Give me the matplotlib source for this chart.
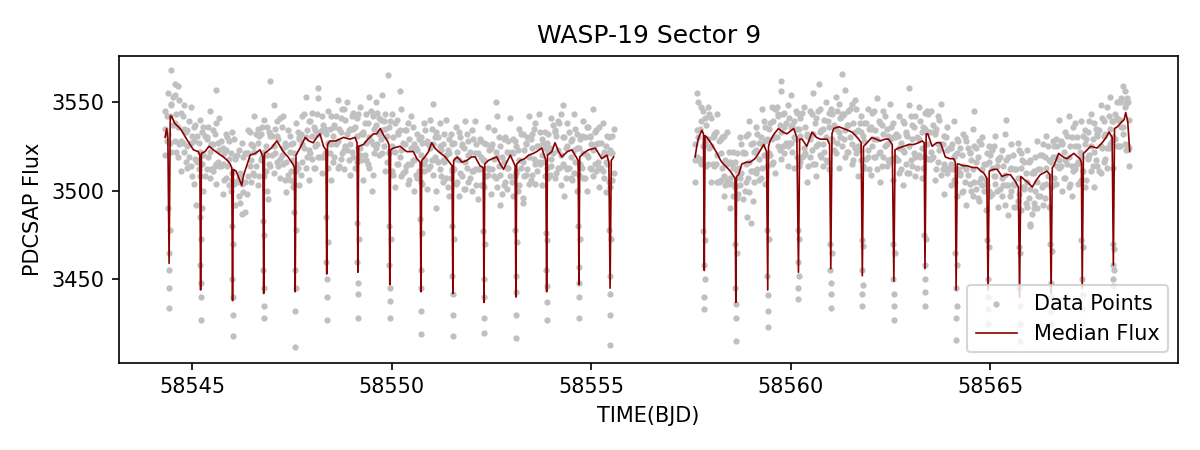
# wasp19_lightcurve.py
import numpy as np
import matplotlib
matplotlib.use("Agg")
import matplotlib.pyplot as plt

# times are stored as BJD - 58540 to keep the lists short
BJD_OFFSET = 58540

TITLE = "WASP-19 Sector 9"

# ---- data points, orbit 1 ----
seg1_time = [
    4.32, 4.40, 4.48, 4.56, 4.64, 4.72, 4.80, 4.88, 4.96, 5.04,
    5.12, 5.20, 5.28, 5.36, 5.44, 5.52, 5.60, 5.68, 5.76, 5.84,
    5.92, 6.00, 6.08, 6.16, 6.24, 6.32, 6.40, 6.48, 6.56, 6.64,
    6.72, 6.80, 6.88, 6.96, 7.04, 7.12, 7.20, 7.28, 7.36, 7.44,
    7.52, 7.60, 7.68, 7.76, 7.84, 7.92, 8.00, 8.08, 8.16, 8.24,
    8.32, 8.40, 8.48, 8.56, 8.64, 8.72, 8.80, 8.88, 8.96, 9.04,
    9.12, 9.20, 9.28, 9.36, 9.44, 9.52, 9.60, 9.68, 9.76, 9.84,
    9.92, 10.00, 10.08, 10.16, 10.24, 10.32, 10.40, 10.48, 10.56, 10.64,
    10.72, 10.80, 10.88, 10.96, 11.04, 11.12, 11.20, 11.28, 11.36, 11.44,
    11.52, 11.60, 11.68, 11.76, 11.84, 11.92, 12.00, 12.08, 12.16, 12.24,
    12.32, 12.40, 12.48, 12.56, 12.64, 12.72, 12.80, 12.88, 12.96, 13.04,
    13.12, 13.20, 13.28, 13.36, 13.44, 13.52, 13.60, 13.68, 13.76, 13.84,
    13.92, 14.00, 14.08, 14.16, 14.24, 14.32, 14.40, 14.48, 14.56, 14.64,
    14.72, 14.80, 14.88, 14.96, 15.04, 15.12, 15.20, 15.28, 15.36, 15.44,
    15.52,
]
seg1_flux_hi = [
    3545, 3555, 3549, 3554, 3559, 3544, 3548, 3534, 3547, 3536,
    3531, 3540, 3536, 3530, 3545, 3534, 3538, 3541, 3524, 3532,
    3528, 3533, 3519, 3523, 3527, 3521, 3534, 3526, 3542, 3535,
    3532, 3540, 3536, 3532, 3548, 3539, 3541, 3542, 3525, 3531,
    3527, 3538, 3530, 3542, 3553, 3539, 3544, 3534, 3552, 3542,
    3535, 3545, 3542, 3537, 3551, 3541, 3546, 3550, 3535, 3544,
    3541, 3547, 3533, 3543, 3553, 3542, 3550, 3541, 3554, 3543,
    3536, 3543, 3538, 3533, 3546, 3534, 3538, 3542, 3526, 3532,
    3530, 3538, 3528, 3540, 3549, 3533, 3538, 3526, 3540, 3529,
    3526, 3536, 3533, 3526, 3539, 3528, 3534, 3539, 3521, 3528,
    3527, 3536, 3525, 3534, 3542, 3525, 3529, 3522, 3541, 3529,
    3525, 3535, 3532, 3527, 3542, 3532, 3538, 3543, 3529, 3533,
    3532, 3541, 3534, 3539, 3543, 3530, 3538, 3528, 3543, 3532,
    3529, 3539, 3536, 3531, 3546, 3534, 3536, 3538, 3525, 3530,
    3531,
]
seg1_flux_mid = [
    3535, 3532, 3548, 3538, 3536, 3528, 3535, 3525, 3527, 3528,
    3517, 3522, 3520, 3529, 3522, 3526, 3515, 3523, 3515, 3523,
    3518, 3510, 3518, 3507, 3504, 3505, 3521, 3517, 3522, 3527,
    3518, 3522, 3520, 3531, 3525, 3531, 3518, 3524, 3516, 3522,
    3517, 3515, 3529, 3526, 3530, 3523, 3531, 3525, 3532, 3534,
    3521, 3527, 3526, 3536, 3528, 3533, 3523, 3532, 3526, 3535,
    3531, 3524, 3532, 3527, 3530, 3526, 3537, 3532, 3534, 3535,
    3522, 3525, 3522, 3532, 3523, 3526, 3515, 3524, 3517, 3523,
    3520, 3515, 3527, 3524, 3526, 3517, 3525, 3517, 3520, 3521,
    3512, 3518, 3517, 3525, 3516, 3520, 3511, 3521, 3512, 3519,
    3517, 3513, 3524, 3518, 3519, 3509, 3516, 3513, 3521, 3521,
    3511, 3517, 3516, 3526, 3519, 3524, 3515, 3525, 3520, 3524,
    3522, 3518, 3533, 3523, 3520, 3514, 3525, 3519, 3523, 3524,
    3515, 3521, 3520, 3530, 3523, 3526, 3513, 3520, 3516, 3521,
    3521,
]
seg1_flux_lo = [
    3520, 3528, 3522, 3528, 3519, 3511, 3522, 3513, 3514, 3504,
    3516, 3508, 3500, 3512, 3507, 3511, 3504, 3514, 3498, 3507,
    3503, 3506, 3492, 3497, 3487, 3488, 3508, 3505, 3509, 3503,
    3517, 3508, 3500, 3514, 3510, 3516, 3507, 3515, 3499, 3506,
    3502, 3511, 3503, 3516, 3513, 3506, 3518, 3513, 3519, 3510,
    3520, 3513, 3506, 3519, 3513, 3518, 3512, 3523, 3509, 3519,
    3516, 3520, 3506, 3517, 3513, 3509, 3524, 3520, 3521, 3511,
    3521, 3511, 3502, 3515, 3508, 3511, 3504, 3515, 3500, 3507,
    3505, 3511, 3501, 3514, 3509, 3500, 3512, 3505, 3507, 3497,
    3511, 3504, 3497, 3508, 3501, 3505, 3500, 3512, 3495, 3503,
    3502, 3509, 3498, 3508, 3502, 3492, 3503, 3501, 3508, 3497,
    3510, 3503, 3496, 3509, 3504, 3509, 3504, 3516, 3503, 3508,
    3507, 3514, 3507, 3513, 3503, 3497, 3512, 3507, 3510, 3500,
    3514, 3507, 3500, 3513, 3508, 3511, 3502, 3511, 3499, 3505,
    3506,
]
# second set of cadences in orbit 1, between the ones above
seg1_time_b = [
    4.36, 4.44, 4.52, 4.60, 4.68, 4.76, 4.84, 4.92, 5.00, 5.08,
    5.16, 5.24, 5.32, 5.40, 5.48, 5.56, 5.64, 5.72, 5.80, 5.88,
    5.96, 6.04, 6.12, 6.20, 6.28, 6.36, 6.44, 6.52, 6.60, 6.68,
    6.76, 6.84, 6.92, 7.00, 7.08, 7.16, 7.24, 7.32, 7.40, 7.48,
    7.56, 7.64, 7.72, 7.80, 7.88, 7.96, 8.04, 8.12, 8.20, 8.28,
    8.36, 8.44, 8.52, 8.60, 8.68, 8.76, 8.84, 8.92, 9.00, 9.08,
    9.16, 9.24, 9.32, 9.40, 9.48, 9.56, 9.64, 9.72, 9.80, 9.88,
    9.96, 10.04, 10.12, 10.20, 10.28, 10.36, 10.44, 10.52, 10.60, 10.68,
    10.76, 10.84, 10.92, 11.00, 11.08, 11.16, 11.24, 11.32, 11.40, 11.48,
    11.56, 11.64, 11.72, 11.80, 11.88, 11.96, 12.04, 12.12, 12.20, 12.28,
    12.36, 12.44, 12.52, 12.60, 12.68, 12.76, 12.84, 12.92, 13.00, 13.08,
    13.16, 13.24, 13.32, 13.40, 13.48, 13.56, 13.64, 13.72, 13.80, 13.88,
    13.96, 14.04, 14.12, 14.20, 14.28, 14.36, 14.44, 14.52, 14.60, 14.68,
    14.76, 14.84, 14.92, 15.00, 15.08, 15.16, 15.24, 15.32, 15.40, 15.48,
    15.56,
]
seg1_flux_up = [
    3542, 3542, 3553, 3543, 3551, 3542, 3533, 3539, 3531, 3537,
    3527, 3533, 3531, 3536, 3526, 3532, 3527, 3528, 3521, 3530,
    3521, 3529, 3520, 3510, 3519, 3521, 3533, 3525, 3532, 3531,
    3536, 3525, 3533, 3531, 3535, 3529, 3536, 3527, 3534, 3526,
    3521, 3533, 3532, 3543, 3534, 3539, 3536, 3543, 3533, 3537,
    3532, 3535, 3531, 3542, 3535, 3546, 3540, 3534, 3542, 3536,
    3543, 3532, 3538, 3538, 3545, 3535, 3544, 3540, 3539, 3531,
    3539, 3530, 3540, 3534, 3527, 3534, 3529, 3536, 3524, 3529,
    3527, 3534, 3526, 3535, 3530, 3530, 3523, 3532, 3523, 3532,
    3527, 3522, 3530, 3524, 3532, 3522, 3529, 3526, 3529, 3517,
    3526, 3523, 3526, 3522, 3530, 3519, 3530, 3528, 3522, 3528,
    3523, 3532, 3523, 3530, 3529, 3535, 3525, 3533, 3527, 3527,
    3524, 3537, 3531, 3538, 3530, 3524, 3533, 3529, 3535, 3524,
    3531, 3530, 3536, 3526, 3533, 3527, 3527, 3522, 3531, 3523,
    3535,
]
seg1_flux_dn = [
    3528, 3527, 3537, 3522, 3526, 3527, 3516, 3519, 3508, 3518,
    3512, 3515, 3508, 3519, 3512, 3514, 3516, 3514, 3506, 3514,
    3500, 3504, 3505, 3493, 3499, 3498, 3514, 3510, 3514, 3508,
    3519, 3511, 3515, 3520, 3521, 3514, 3520, 3506, 3509, 3511,
    3504, 3513, 3509, 3524, 3519, 3521, 3513, 3526, 3519, 3519,
    3521, 3521, 3516, 3526, 3514, 3521, 3525, 3517, 3522, 3513,
    3524, 3517, 3520, 3515, 3528, 3521, 3526, 3529, 3525, 3516,
    3523, 3509, 3515, 3519, 3510, 3514, 3506, 3517, 3509, 3511,
    3504, 3517, 3512, 3517, 3519, 3516, 3508, 3516, 3502, 3507,
    3512, 3505, 3510, 3501, 3513, 3507, 3511, 3503, 3512, 3503,
    3508, 3512, 3512, 3507, 3514, 3498, 3505, 3513, 3505, 3508,
    3500, 3513, 3508, 3512, 3506, 3518, 3511, 3515, 3516, 3513,
    3509, 3521, 3510, 3513, 3515, 3507, 3513, 3506, 3516, 3509,
    3513, 3507, 3519, 3512, 3515, 3516, 3513, 3507, 3515, 3502,
    3510,
]

# ---- data points, orbit 2 ----
seg2_time = [
    17.60, 17.68, 17.76, 17.84, 17.92, 18.00, 18.08, 18.16, 18.24, 18.32,
    18.40, 18.48, 18.56, 18.64, 18.72, 18.80, 18.88, 18.96, 19.04, 19.12,
    19.20, 19.28, 19.36, 19.44, 19.52, 19.60, 19.68, 19.76, 19.84, 19.92,
    20.00, 20.08, 20.16, 20.24, 20.32, 20.40, 20.48, 20.56, 20.64, 20.72,
    20.80, 20.88, 20.96, 21.04, 21.12, 21.20, 21.28, 21.36, 21.44, 21.52,
    21.60, 21.68, 21.76, 21.84, 21.92, 22.00, 22.08, 22.16, 22.24, 22.32,
    22.40, 22.48, 22.56, 22.64, 22.72, 22.80, 22.88, 22.96, 23.04, 23.12,
    23.20, 23.28, 23.36, 23.44, 23.52, 23.60, 23.68, 23.76, 23.84, 23.92,
    24.00, 24.08, 24.16, 24.24, 24.32, 24.40, 24.48, 24.56, 24.64, 24.72,
    24.80, 24.88, 24.96, 25.04, 25.12, 25.20, 25.28, 25.36, 25.44, 25.52,
    25.60, 25.68, 25.76, 25.84, 25.92, 26.00, 26.08, 26.16, 26.24, 26.32,
    26.40, 26.48, 26.56, 26.64, 26.72, 26.80, 26.88, 26.96, 27.04, 27.12,
    27.20, 27.28, 27.36, 27.44, 27.52, 27.60, 27.68, 27.76, 27.84, 27.92,
    28.00, 28.08, 28.16, 28.24, 28.32, 28.40, 28.48,
]
seg2_flux_hi = [
    3526, 3550, 3547, 3541, 3547, 3541, 3532, 3543, 3529, 3531,
    3533, 3516, 3522, 3521, 3530, 3522, 3531, 3539, 3527, 3536,
    3527, 3546, 3536, 3535, 3547, 3546, 3543, 3556, 3544, 3548,
    3554, 3539, 3544, 3541, 3547, 3532, 3545, 3555, 3541, 3546,
    3535, 3550, 3544, 3543, 3553, 3549, 3543, 3557, 3545, 3549,
    3551, 3534, 3542, 3538, 3546, 3536, 3545, 3552, 3538, 3545,
    3535, 3549, 3538, 3532, 3542, 3539, 3533, 3548, 3537, 3542,
    3547, 3533, 3544, 3543, 3545, 3533, 3542, 3549, 3531, 3536,
    3524, 3539, 3529, 3524, 3532, 3528, 3522, 3535, 3524, 3528,
    3530, 3515, 3525, 3523, 3531, 3518, 3523, 3532, 3519, 3526,
    3512, 3527, 3521, 3516, 3523, 3517, 3511, 3528, 3520, 3526,
    3531, 3517, 3528, 3529, 3540, 3527, 3533, 3542, 3530, 3538,
    3525, 3539, 3534, 3533, 3543, 3538, 3532, 3548, 3539, 3547,
    3553, 3539, 3550, 3550, 3559, 3550, 3540,
]
seg2_flux_mid = [
    3517, 3530, 3539, 3527, 3529, 3525, 3531, 3520, 3521, 3508,
    3515, 3507, 3513, 3511, 3507, 3521, 3515, 3516, 3511, 3523,
    3518, 3526, 3528, 3521, 3529, 3530, 3542, 3533, 3536, 3525,
    3536, 3530, 3535, 3531, 3524, 3531, 3529, 3532, 3525, 3533,
    3526, 3530, 3536, 3529, 3535, 3533, 3542, 3534, 3537, 3526,
    3533, 3525, 3533, 3528, 3523, 3535, 3529, 3529, 3522, 3532,
    3526, 3529, 3530, 3518, 3524, 3523, 3532, 3525, 3529, 3519,
    3529, 3524, 3535, 3533, 3522, 3532, 3526, 3526, 3515, 3523,
    3515, 3519, 3521, 3510, 3514, 3512, 3521, 3512, 3516, 3505,
    3512, 3506, 3516, 3513, 3508, 3517, 3507, 3509, 3503, 3513,
    3503, 3507, 3513, 3502, 3505, 3501, 3510, 3505, 3512, 3503,
    3513, 3508, 3519, 3519, 3517, 3526, 3517, 3519, 3514, 3525,
    3516, 3519, 3526, 3519, 3525, 3522, 3531, 3525, 3531, 3524,
    3535, 3530, 3541, 3540, 3536, 3549, 3524,
]
seg2_flux_lo = [
    3505, 3517, 3515, 3526, 3515, 3505, 3514, 3505, 3506, 3497,
    3506, 3490, 3497, 3496, 3503, 3495, 3505, 3499, 3494, 3510,
    3506, 3513, 3504, 3520, 3515, 3510, 3525, 3518, 3521, 3514,
    3527, 3513, 3519, 3516, 3520, 3505, 3519, 3515, 3508, 3520,
    3514, 3517, 3512, 3528, 3521, 3513, 3525, 3519, 3522, 3515,
    3524, 3508, 3517, 3513, 3519, 3509, 3519, 3512, 3505, 3519,
    3514, 3516, 3506, 3517, 3510, 3503, 3515, 3510, 3514, 3508,
    3520, 3507, 3519, 3518, 3518, 3506, 3516, 3509, 3498, 3510,
    3503, 3506, 3497, 3509, 3500, 3492, 3504, 3497, 3501, 3494,
    3503, 3489, 3500, 3498, 3504, 3491, 3497, 3492, 3486, 3500,
    3491, 3494, 3489, 3501, 3491, 3481, 3493, 3490, 3497, 3492,
    3504, 3491, 3503, 3504, 3513, 3500, 3507, 3502, 3497, 3512,
    3504, 3506, 3502, 3518, 3511, 3502, 3514, 3510, 3516, 3513,
    3526, 3513, 3525, 3525, 3532, 3523, 3514,
]
seg2_time_b = [
    17.64, 17.72, 17.80, 17.88, 17.96, 18.04, 18.12, 18.20, 18.28, 18.36,
    18.44, 18.52, 18.60, 18.68, 18.76, 18.84, 18.92, 19.00, 19.08, 19.16,
    19.24, 19.32, 19.40, 19.48, 19.56, 19.64, 19.72, 19.80, 19.88, 19.96,
    20.04, 20.12, 20.20, 20.28, 20.36, 20.44, 20.52, 20.60, 20.68, 20.76,
    20.84, 20.92, 21.00, 21.08, 21.16, 21.24, 21.32, 21.40, 21.48, 21.56,
    21.64, 21.72, 21.80, 21.88, 21.96, 22.04, 22.12, 22.20, 22.28, 22.36,
    22.44, 22.52, 22.60, 22.68, 22.76, 22.84, 22.92, 23.00, 23.08, 23.16,
    23.24, 23.32, 23.40, 23.48, 23.56, 23.64, 23.72, 23.80, 23.88, 23.96,
    24.04, 24.12, 24.20, 24.28, 24.36, 24.44, 24.52, 24.60, 24.68, 24.76,
    24.84, 24.92, 25.00, 25.08, 25.16, 25.24, 25.32, 25.40, 25.48, 25.56,
    25.64, 25.72, 25.80, 25.88, 25.96, 26.04, 26.12, 26.20, 26.28, 26.36,
    26.44, 26.52, 26.60, 26.68, 26.76, 26.84, 26.92, 27.00, 27.08, 27.16,
    27.24, 27.32, 27.40, 27.48, 27.56, 27.64, 27.72, 27.80, 27.88, 27.96,
    28.04, 28.12, 28.20, 28.28, 28.36, 28.44,
]
seg2_flux_up = [
    3534, 3535, 3545, 3537, 3543, 3530, 3533, 3528, 3530, 3517,
    3522, 3515, 3516, 3513, 3526, 3521, 3532, 3526, 3522, 3532,
    3530, 3539, 3529, 3538, 3539, 3547, 3537, 3543, 3538, 3541,
    3537, 3545, 3535, 3544, 3536, 3531, 3543, 3538, 3545, 3534,
    3540, 3539, 3546, 3537, 3545, 3541, 3543, 3537, 3546, 3538,
    3546, 3538, 3531, 3538, 3535, 3544, 3534, 3539, 3537, 3542,
    3531, 3536, 3530, 3531, 3527, 3538, 3531, 3542, 3536, 3530,
    3539, 3536, 3545, 3533, 3537, 3535, 3540, 3526, 3530, 3524,
    3526, 3520, 3528, 3520, 3530, 3524, 3517, 3525, 3519, 3526,
    3515, 3521, 3520, 3525, 3514, 3519, 3514, 3517, 3512, 3520,
    3512, 3523, 3517, 3510, 3516, 3510, 3519, 3512, 3520, 3519,
    3525, 3516, 3525, 3525, 3528, 3522, 3531, 3525, 3536, 3530,
    3522, 3531, 3529, 3539, 3529, 3535, 3534, 3541, 3532, 3542,
    3539, 3543, 3540, 3552, 3547, 3550,
]
seg2_flux_dn = [
    3519, 3518, 3525, 3514, 3524, 3515, 3515, 3505, 3513, 3503,
    3504, 3504, 3502, 3498, 3510, 3500, 3507, 3511, 3505, 3512,
    3507, 3520, 3514, 3520, 3516, 3530, 3523, 3525, 3527, 3527,
    3522, 3529, 3514, 3519, 3521, 3514, 3523, 3515, 3526, 3519,
    3522, 3516, 3529, 3523, 3527, 3530, 3529, 3522, 3530, 3517,
    3521, 3523, 3514, 3518, 3512, 3525, 3519, 3521, 3514, 3525,
    3517, 3518, 3519, 3517, 3512, 3522, 3510, 3517, 3521, 3513,
    3519, 3513, 3526, 3518, 3519, 3512, 3523, 3512, 3512, 3513,
    3512, 3505, 3512, 3499, 3505, 3509, 3500, 3505, 3496, 3507,
    3500, 3503, 3497, 3508, 3500, 3501, 3503, 3503, 3497, 3504,
    3491, 3498, 3502, 3493, 3496, 3487, 3500, 3497, 3502, 3496,
    3508, 3502, 3507, 3514, 3514, 3507, 3515, 3504, 3511, 3515,
    3505, 3511, 3506, 3520, 3514, 3517, 3511, 3524, 3518, 3524,
    3528, 3529, 3525, 3536, 3526, 3525,
]

# scattered points above / below the main band
stray_time = [4.46, 4.58, 5.10, 5.60, 6.94, 8.15, 9.90, 10.20, 12.60, 14.30,
              17.66, 19.74, 20.70, 21.28, 22.95, 24.60, 25.40, 26.10, 28.36, 28.42,
              5.25, 6.90, 9.50, 11.10, 13.30, 18.90, 19.00, 26.00]
stray_flux = [3568, 3560, 3492, 3557, 3562, 3558, 3565, 3556, 3550, 3548,
              3555, 3562, 3560, 3566, 3558, 3545, 3540, 3490, 3556, 3552,
              3490, 3495, 3500, 3490, 3493, 3485, 3482, 3480]

# in-transit points (six per transit)
transit_time = [
    4.40, 4.41, 4.42, 4.42, 4.43, 4.44,
    5.19, 5.20, 5.21, 5.21, 5.22, 5.23,
    5.99, 6.00, 6.01, 6.01, 6.02, 6.03,
    6.77, 6.78, 6.79, 6.79, 6.80, 6.81,
    7.56, 7.57, 7.58, 7.58, 7.59, 7.60,
    8.35, 8.36, 8.37, 8.37, 8.38, 8.39,
    9.13, 9.14, 9.15, 9.15, 9.16, 9.17,
    9.93, 9.94, 9.95, 9.95, 9.96, 9.97,
    10.71, 10.72, 10.73, 10.73, 10.74, 10.75,
    11.51, 11.52, 11.53, 11.53, 11.54, 11.55,
    12.29, 12.30, 12.31, 12.31, 12.32, 12.33,
    13.09, 13.10, 13.11, 13.11, 13.12, 13.13,
    13.86, 13.87, 13.88, 13.88, 13.89, 13.90,
    14.67, 14.68, 14.69, 14.69, 14.70, 14.71,
    15.45, 15.46, 15.47, 15.47, 15.48, 15.49,
    17.81, 17.82, 17.83, 17.83, 17.84, 17.85,
    18.60, 18.61, 18.62, 18.62, 18.63, 18.64,
    19.40, 19.41, 19.42, 19.42, 19.43, 19.44,
    20.17, 20.18, 20.19, 20.19, 20.20, 20.21,
    20.98, 20.99, 21.00, 21.00, 21.01, 21.02,
    21.77, 21.78, 21.79, 21.79, 21.80, 21.81,
    22.56, 22.57, 22.58, 22.58, 22.59, 22.60,
    23.34, 23.35, 23.36, 23.36, 23.37, 23.38,
    24.12, 24.13, 24.14, 24.14, 24.15, 24.16,
    24.92, 24.93, 24.94, 24.94, 24.95, 24.96,
    25.71, 25.72, 25.73, 25.73, 25.74, 25.75,
    26.50, 26.51, 26.52, 26.52, 26.53, 26.54,
    27.28, 27.29, 27.30, 27.30, 27.31, 27.32,
    28.06, 28.07, 28.08, 28.08, 28.09, 28.10,
]
transit_flux = [
    3490, 3465, 3445, 3434, 3455, 3478,
    3485, 3458, 3440, 3427, 3448, 3473,
    3480, 3450, 3430, 3418, 3440, 3470,
    3483, 3455, 3435, 3428, 3445, 3475,
    3488, 3455, 3432, 3412, 3445, 3478,
    3485, 3460, 3440, 3427, 3450, 3471,
    3482, 3460, 3442, 3428, 3448, 3473,
    3480, 3458, 3438, 3428, 3445, 3473,
    3484, 3455, 3432, 3419, 3445, 3476,
    3480, 3452, 3430, 3418, 3442, 3473,
    3477, 3450, 3428, 3420, 3440, 3470,
    3478, 3452, 3430, 3417, 3443, 3471,
    3476, 3455, 3437, 3427, 3446, 3472,
    3480, 3457, 3440, 3428, 3448, 3473,
    3478, 3452, 3430, 3413, 3442, 3473,
    3477, 3458, 3440, 3433, 3450, 3472,
    3470, 3445, 3428, 3415, 3436, 3465,
    3478, 3452, 3432, 3423, 3441, 3473,
    3478, 3460, 3445, 3439, 3452, 3473,
    3470, 3455, 3442, 3434, 3448, 3465,
    3472, 3455, 3442, 3435, 3447, 3469,
    3470, 3450, 3435, 3427, 3442, 3465,
    3475, 3458, 3443, 3435, 3450, 3473,
    3465, 3445, 3428, 3416, 3435, 3458,
    3472, 3450, 3433, 3425, 3440, 3468,
    3468, 3445, 3425, 3415, 3435, 3465,
    3470, 3448, 3432, 3425, 3440, 3466,
    3472, 3450, 3433, 3425, 3441, 3468,
    3470, 3458, 3450, 3446, 3455, 3467,
]

# ---- running median, one list per orbit ----
med1_time = [
    4.32, 4.36, 4.39, 4.42, 4.45, 4.48, 4.56, 4.65, 4.73, 4.86,
    5.03, 5.15, 5.19, 5.21, 5.23, 5.32, 5.42, 5.53, 5.65, 5.78,
    5.88, 5.95, 5.99, 6.01, 6.03, 6.10, 6.17, 6.24, 6.28, 6.32,
    6.38, 6.45, 6.58, 6.70, 6.77, 6.79, 6.81, 6.87, 6.98, 7.12,
    7.20, 7.28, 7.40, 7.52, 7.56, 7.58, 7.60, 7.70, 7.83, 7.92,
    8.03, 8.12, 8.20, 8.29, 8.35, 8.37, 8.39, 8.45, 8.60, 8.79,
    8.95, 9.08, 9.13, 9.15, 9.17, 9.29, 9.40, 9.54, 9.62, 9.71,
    9.80, 9.89, 9.93, 9.95, 9.97, 10.04, 10.21, 10.37, 10.54, 10.63,
    10.71, 10.73, 10.75, 10.83, 10.92, 11.00, 11.08, 11.17, 11.34, 11.44,
    11.51, 11.53, 11.55, 11.64, 11.76, 11.88, 12.00, 12.09, 12.21, 12.29,
    12.31, 12.33, 12.42, 12.52, 12.63, 12.72, 12.80, 12.88, 12.97, 13.05,
    13.09, 13.11, 13.13, 13.22, 13.33, 13.43, 13.55, 13.63, 13.76, 13.83,
    13.86, 13.88, 13.90, 14.01, 14.09, 14.18, 14.26, 14.40, 14.51, 14.62,
    14.67, 14.69, 14.71, 14.80, 14.93, 15.10, 15.26, 15.39, 15.44, 15.47,
    15.50, 15.56,
]
med1_flux = [
    3530, 3535, 3529, 3459, 3542, 3542, 3538, 3536, 3534, 3529,
    3523, 3522, 3520, 3444, 3521, 3522, 3525, 3523, 3521, 3519,
    3517, 3515, 3513, 3438, 3512, 3511, 3507, 3503, 3508, 3511,
    3515, 3520, 3521, 3523, 3519, 3442, 3521, 3522, 3524, 3528,
    3525, 3522, 3519, 3515, 3513, 3443, 3520, 3524, 3530, 3528,
    3527, 3530, 3532, 3525, 3523, 3453, 3526, 3528, 3528, 3530,
    3529, 3530, 3527, 3454, 3525, 3526, 3529, 3532, 3532, 3535,
    3531, 3528, 3526, 3447, 3523, 3524, 3525, 3522, 3522, 3518,
    3516, 3443, 3517, 3519, 3522, 3527, 3524, 3522, 3519, 3516,
    3514, 3442, 3517, 3519, 3516, 3517, 3519, 3519, 3514, 3513,
    3437, 3515, 3517, 3518, 3519, 3515, 3512, 3516, 3520, 3516,
    3514, 3440, 3515, 3517, 3518, 3520, 3521, 3522, 3524, 3519,
    3517, 3443, 3520, 3522, 3527, 3522, 3519, 3522, 3523, 3519,
    3517, 3447, 3519, 3521, 3523, 3524, 3518, 3520, 3516, 3445,
    3517, 3519,
]
med2_time = [
    17.60, 17.65, 17.69, 17.77, 17.81, 17.83, 17.85, 17.90, 18.02, 18.15,
    18.24, 18.31, 18.40, 18.48, 18.57, 18.60, 18.62, 18.64, 18.69, 18.77,
    18.88, 18.98, 19.10, 19.19, 19.32, 19.39, 19.42, 19.44, 19.48, 19.58,
    19.69, 19.80, 19.90, 20.07, 20.15, 20.19, 20.22, 20.28, 20.40, 20.53,
    20.64, 20.74, 20.91, 20.97, 21.00, 21.03, 21.07, 21.20, 21.32, 21.43,
    21.53, 21.62, 21.70, 21.76, 21.79, 21.82, 21.87, 22.03, 22.14, 22.24,
    22.35, 22.45, 22.54, 22.58, 22.61, 22.70, 22.83, 22.96, 23.08, 23.20,
    23.29, 23.34, 23.36, 23.39, 23.43, 23.54, 23.65, 23.75, 23.87, 23.98,
    24.08, 24.12, 24.14, 24.17, 24.21, 24.32, 24.42, 24.55, 24.67, 24.76,
    24.83, 24.91, 24.94, 24.97, 25.08, 25.17, 25.29, 25.40, 25.50, 25.63,
    25.70, 25.73, 25.76, 25.86, 25.92, 26.05, 26.15, 26.25, 26.42, 26.49,
    26.52, 26.55, 26.59, 26.71, 26.82, 26.92, 27.09, 27.24, 27.28, 27.30,
    27.33, 27.38, 27.51, 27.67, 27.80, 27.90, 27.97, 28.05, 28.08, 28.11,
    28.18, 28.30, 28.35, 28.39, 28.44, 28.49,
]
med2_flux = [
    3519, 3526, 3530, 3534, 3532, 3455, 3531, 3530, 3526, 3521,
    3517, 3515, 3513, 3511, 3508, 3507, 3437, 3508, 3509, 3515,
    3516, 3516, 3518, 3521, 3526, 3522, 3444, 3525, 3528, 3532,
    3535, 3533, 3532, 3535, 3530, 3454, 3529, 3529, 3525, 3533,
    3530, 3529, 3529, 3526, 3456, 3532, 3535, 3536, 3535, 3534,
    3533, 3531, 3529, 3527, 3452, 3525, 3526, 3530, 3529, 3528,
    3529, 3529, 3526, 3449, 3523, 3524, 3525, 3526, 3526, 3527,
    3528, 3527, 3456, 3532, 3532, 3525, 3527, 3527, 3519, 3518,
    3518, 3516, 3444, 3515, 3515, 3514, 3514, 3513, 3513, 3511,
    3510, 3507, 3444, 3511, 3512, 3512, 3508, 3509, 3509, 3505,
    3502, 3440, 3508, 3506, 3505, 3502, 3506, 3509, 3511, 3509,
    3442, 3513, 3514, 3521, 3519, 3518, 3521, 3518, 3516, 3445,
    3521, 3522, 3525, 3524, 3527, 3530, 3533, 3530, 3458, 3535,
    3536, 3539, 3540, 3544, 3539, 3522,
]


def to_bjd(values):
    return np.asarray(values, dtype=float) + BJD_OFFSET


fig, ax = plt.subplots(figsize=(8, 3), dpi=150)
fig.subplots_adjust(left=0.099, right=0.982, top=0.876, bottom=0.194)

# all gray points go into one scatter call so the legend has one entry
pts_time = np.concatenate([
    to_bjd(seg1_time), to_bjd(seg1_time), to_bjd(seg1_time),
    to_bjd(seg1_time_b), to_bjd(seg1_time_b),
    to_bjd(seg2_time), to_bjd(seg2_time), to_bjd(seg2_time),
    to_bjd(seg2_time_b), to_bjd(seg2_time_b),
    to_bjd(stray_time), to_bjd(transit_time),
])
pts_flux = np.concatenate([
    seg1_flux_hi, seg1_flux_mid, seg1_flux_lo,
    seg1_flux_up, seg1_flux_dn,
    seg2_flux_hi, seg2_flux_mid, seg2_flux_lo,
    seg2_flux_up, seg2_flux_dn,
    stray_flux, transit_flux,
]).astype(float)

ax.scatter(pts_time, pts_flux, s=4, color="silver", label="Data Points", zorder=1)
ax.plot(to_bjd(med1_time), med1_flux, color="darkred", lw=0.8, label="Median Flux", zorder=2)
ax.plot(to_bjd(med2_time), med2_flux, color="darkred", lw=0.8, zorder=2)

ax.set_xlim(58543.16, 58569.71)
ax.set_ylim(3403, 3576)
ax.set_yticks([3450, 3500, 3550])
ax.ticklabel_format(useOffset=False, style="plain")

ax.set_title(TITLE)
ax.set_xlabel("TIME(BJD)")
ax.set_ylabel("PDCSAP Flux")
ax.legend(loc="lower right")

fig.savefig("out.png", dpi=150)
